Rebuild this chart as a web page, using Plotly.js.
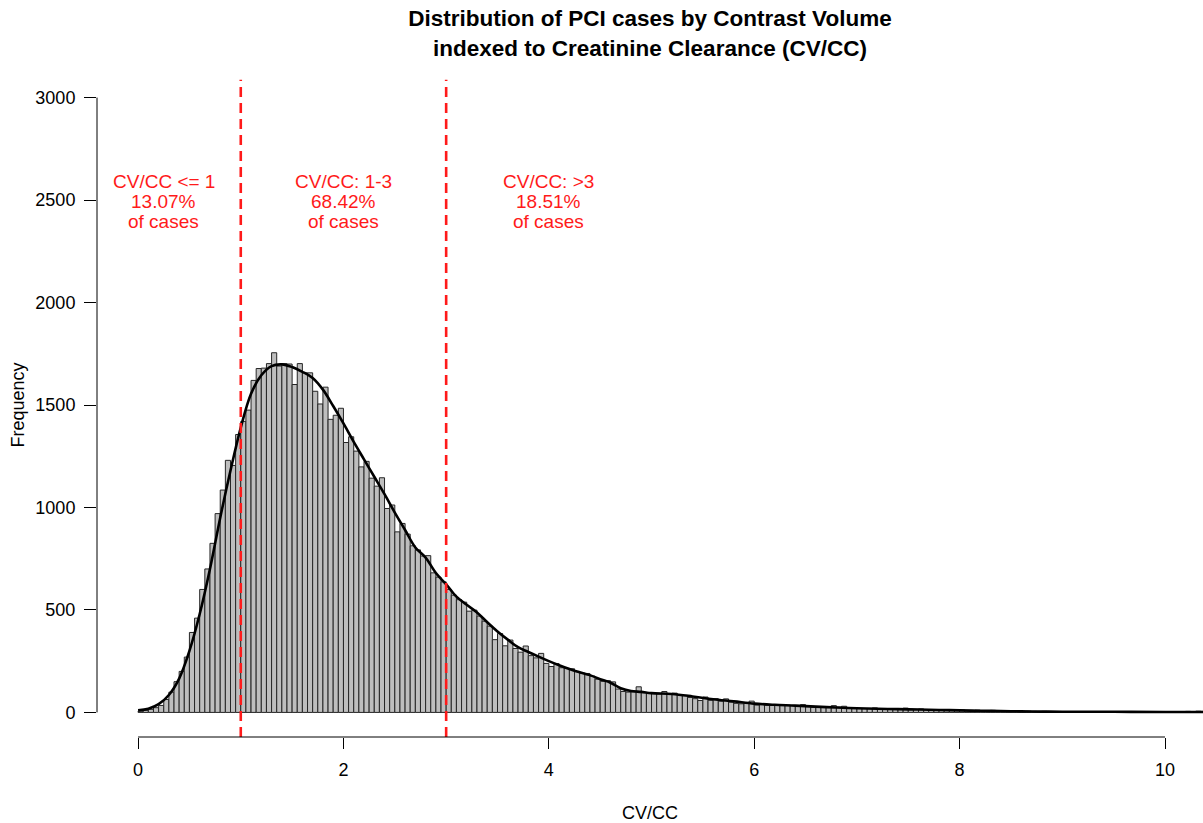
<!DOCTYPE html>
<html><head><meta charset="utf-8">
<script src="https://cdn.plot.ly/plotly-3.0.1.min.js"></script>
<style>html,body{margin:0;padding:0;background:#fff;} #chart{width:1203px;height:823px;}</style>
</head><body><div id="chart"></div>
<script>
// Histogram: bins of width 0.05 starting at 0
const binWidth = 0.05;
const binStart = 0;
const counts = [
  6,10,15,23,34,63,99,150,200,270,390,460,600,700,825,970,1085,1230,1205,1356,
  1420,1475,1620,1678,1680,1702,1755,1690,1702,1700,1600,1702,1657,1657,1567,1505,1587,1430,1450,1484,
  1317,1345,1275,1198,1225,1143,1104,1145,995,1012,881,922,870,813,793,763,765,681,660,637,
  600,572,550,538,494,499,470,445,421,355,385,325,353,312,294,324,277,266,288,239,
  224,238,218,215,213,200,192,190,177,162,152,155,149,114,102,99,100,125,99,93,
  92,90,102,89,94,85,83,73,67,58,75,59,67,55,66,50,44,42,45,55,
  36,39,35,34,36,34,35,34,32,38,28,25,24,25,25,33,26,30,20,19,
  19,19,19,22,17,17,18,17,15,21,16,15,17,14,13,12,12,13,11,11,
  12,10,10,11,9,9,10,8,8,7,6,7,5,6,5,4,5,4,4,3,
  4,3,3,3,2,3,2,3,2,2,3,2,2,2,1,2,2,3,2,2,
  2,3,4,3,5,4,6,5
];
// Density curve (scaled to counts)
const curveX = [0,0.1,0.2,0.3,0.4,0.5,0.6,0.7,0.8,0.9,1.0,1.1,1.2,1.3,1.4,1.5,1.6,1.7,1.8,1.9,
  2.0,2.1,2.2,2.3,2.4,2.5,2.6,2.7,2.8,2.9,3.0,3.1,3.2,3.3,3.4,3.5,3.6,3.7,3.8,3.9,
  4.0,4.1,4.2,4.3,4.4,4.5,4.6,4.7,4.8,4.9,5.0,5.2,5.4,5.6,5.8,6.0,6.2,6.4,6.6,6.8,
  7.0,7.2,7.4,7.6,7.8,8.0,8.2,8.4,8.6,8.8,9.0,9.5,10.0,10.4];
const curveY = [10,18,40,85,165,300,480,700,950,1180,1390,1555,1645,1690,1698,1685,1662,1632,1575,1495,
  1410,1320,1235,1150,1065,975,890,805,755,680,625,565,525,488,440,395,355,318,295,272,
  250,230,212,196,182,162,145,118,104,100,94,90,78,64,54,43,37,33,28,24,
  20,18,16,14,12,10,8,7,5,4,3,3,2,2];
const cutoffs = [1, 3];
const regionX = [0.25, 2, 4];
const regionY = 2495;
const regionLines = [
  ["CV/CC &lt;= 1", "13.07%", "of cases"],
  ["CV/CC: 1-3", "68.42%", "of cases"],
  ["CV/CC: &gt;3", "18.51%", "of cases"]
];
const xTicks = [0, 2, 4, 6, 8, 10];
const yTicks = [0, 500, 1000, 1500, 2000, 2500, 3000];
const titleLines = ["Distribution of PCI cases by Contrast Volume", "indexed to Creatinine Clearance (CV/CC)"];

const FONT = "Liberation Sans, Arial, Helvetica, sans-serif";
const binCenters = counts.map((c, i) => binStart + (i + 0.5) * binWidth);

const bars = {
  type: "bar", x: binCenters, y: counts, width: binWidth,
  marker: {color: "#bebebe", line: {color: "#262626", width: 1}},
  hoverinfo: "x+y", showlegend: false
};
const curve = {
  type: "scatter", mode: "lines", x: curveX, y: curveY,
  line: {color: "#000", width: 2.6, shape: "spline", smoothing: 1},
  showlegend: false, hoverinfo: "skip"
};

const shapes = [];
cutoffs.forEach(c => shapes.push({
  type: "line", xref: "x", yref: "paper", x0: c, x1: c, y0: 0, y1: 0.99,
  line: {color: "#ff1a1a", width: 2.6, dash: "10px,6px"}, layer: "above"
}));
// R-style axis lines spanning first to last tick
shapes.push({type: "line", xref: "x", yref: "paper", x0: xTicks[0], x1: xTicks[xTicks.length-1], y0: 0, y1: 0,
  line: {color: "#000", width: 1}});
shapes.push({type: "line", xref: "paper", yref: "y", x0: 0, x1: 0, y0: yTicks[0], y1: yTicks[yTicks.length-1],
  line: {color: "#000", width: 1}});

const annotations = [];
regionLines.forEach((lines, k) => {
  lines.forEach((t, j) => annotations.push({
    x: regionX[k], y: regionY, xref: "x", yref: "y", text: t, showarrow: false,
    yshift: 20 - 20 * j, font: {family: FONT, size: 19, color: "#ff1a1a"}
  }));
});

const layout = {
  width: 1203, height: 823,
  margin: {l: 97, r: 0, t: 73, b: 86},
  paper_bgcolor: "#fff", plot_bgcolor: "#fff",
  bargap: 0,
  title: {
    text: "<b>" + titleLines.join("<br>") + "</b>",
    font: {family: FONT, size: 22.5, color: "#000"},
    x: 0.5, xref: "paper", xanchor: "center", y: 0.968, yref: "container", yanchor: "top"
  },
  xaxis: {
    range: [-0.4, 10.37], tickvals: xTicks, ticktext: xTicks.map(String),
    ticks: "outside", ticklen: 11, tickwidth: 1, tickcolor: "#000",
    ticklabelstandoff: 5,
    showline: false, showgrid: false, zeroline: false,
    tickfont: {family: FONT, size: 18, color: "#000"},
    title: {text: "CV/CC", font: {family: FONT, size: 18, color: "#000"}, standoff: 29}
  },
  yaxis: {
    range: [-120, 3120], tickvals: yTicks, ticktext: yTicks.map(String),
    ticks: "outside", ticklen: 12, tickwidth: 1, tickcolor: "#000",
    ticklabelstandoff: 5,
    showline: false, showgrid: false, zeroline: false,
    tickfont: {family: FONT, size: 18, color: "#000"},
    title: {text: "Frequency", font: {family: FONT, size: 18, color: "#000"}, standoff: 6}
  },
  shapes: shapes,
  annotations: annotations
};

Plotly.newPlot("chart", [bars, curve], layout, {displayModeBar: false, staticPlot: true});
</script></body></html>
